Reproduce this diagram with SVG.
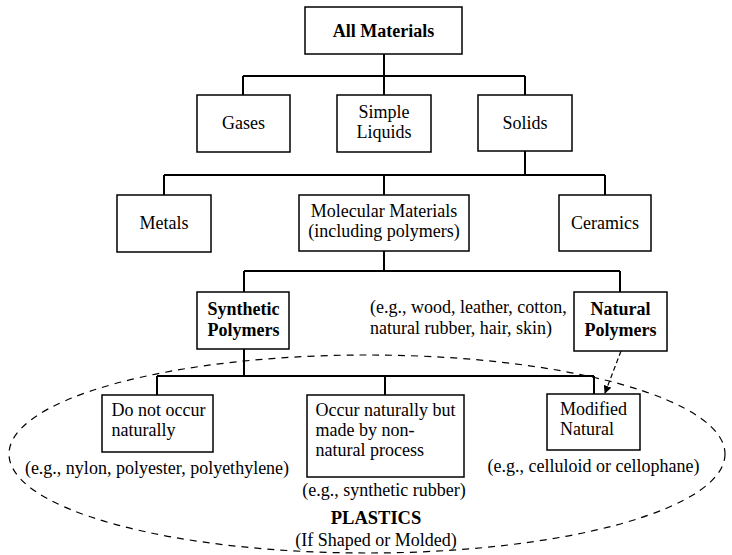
<svg xmlns="http://www.w3.org/2000/svg" width="732" height="555" viewBox="0 0 732 555" font-family="'Liberation Serif', Tinos, 'Times New Roman', 'DejaVu Serif', serif">
<defs>
<style>
.box{fill:#fff;stroke:#000;stroke-width:1.5}
.ln{fill:none;stroke:#000;stroke-width:2}
.t{font-family:'Liberation Serif', Tinos, 'Times New Roman', 'DejaVu Serif', serif;font-size:18px;fill:#000}
.c{text-anchor:middle}
.b{font-weight:bold}
</style>
<marker id="ah" viewBox="0 0 10 10" refX="9" refY="5" markerWidth="8" markerHeight="8" orient="auto" markerUnits="userSpaceOnUse">
<path d="M0,0 L10,5 L0,10 Z" fill="#000"/>
</marker>
</defs>
<rect width="732" height="555" fill="#fff"/>
<g id="plastics">
<ellipse cx="367" cy="454" rx="358" ry="99" fill="none" stroke="#000" stroke-width="1.2" stroke-dasharray="7 6"/>
<text class="t c b" x="376" y="524" style="font-size:18.5px">PLASTICS</text>
<text class="t c" x="376" y="546">(If Shaped or Molded)</text>
</g>
<g id="connectors">
<path class="ln" d="M384 54V76M243 76H525M243 76V95M384 76V95M525 76V95"/>
<path class="ln" d="M525 151V175M164 175H605M164 175V195M384 175V195M605 175V195"/>
<path class="ln" d="M384 251V271M244 271H620M244 271V292M620 271V292"/>
<path class="ln" d="M244 349V376M157 376H594M157 376V395M385 376V395M594 376V394"/>
<path d="M621 351L605 393" fill="none" stroke="#000" stroke-width="1.2" stroke-dasharray="5 3" marker-end="url(#ah)"/>
</g>
<g id="all-materials">
<rect class="box" x="305" y="7" width="157" height="47"/>
<text class="t c b" x="383.5" y="36.5">All Materials</text>
</g>
<g id="gases">
<rect class="box" x="197" y="95" width="93" height="57"/>
<text class="t c" x="243.5" y="129">Gases</text>
</g>
<g id="simple-liquids">
<rect class="box" x="337" y="95" width="94" height="57"/>
<text class="t c" x="384" y="118">Simple</text>
<text class="t c" x="384" y="138">Liquids</text>
</g>
<g id="solids">
<rect class="box" x="478" y="95" width="94" height="56"/>
<text class="t c" x="525" y="129">Solids</text>
</g>
<g id="metals">
<rect class="box" x="117" y="195" width="94" height="57"/>
<text class="t c" x="164" y="229">Metals</text>
</g>
<g id="molecular">
<rect class="box" x="299" y="195" width="170" height="56"/>
<text class="t c" x="384" y="217">Molecular Materials</text>
<text class="t c" x="384" y="237">(including polymers)</text>
</g>
<g id="ceramics">
<rect class="box" x="559" y="195" width="92" height="56"/>
<text class="t c" x="605" y="229">Ceramics</text>
</g>
<g id="synthetic">
<rect class="box" x="197" y="292" width="92" height="57"/>
<text class="t c b" x="243.5" y="315">Synthetic</text>
<text class="t c b" x="243.5" y="336">Polymers</text>
</g>
<g id="natural-examples">
<text class="t" x="370" y="313">(e.g., wood, leather, cotton,</text>
<text class="t" x="370" y="334">natural rubber, hair, skin)</text>
</g>
<g id="natural">
<rect class="box" x="574" y="292" width="93" height="59"/>
<text class="t c b" x="620.5" y="315">Natural</text>
<text class="t c b" x="620.5" y="336">Polymers</text>
</g>
<g id="do-not-occur">
<rect class="box" x="102" y="395" width="111" height="57"/>
<text class="t" x="111.5" y="416">Do not occur</text>
<text class="t" x="111.5" y="436">naturally</text>
<text class="t c" x="157" y="474">(e.g., nylon, polyester, polyethylene)</text>
</g>
<g id="occur-naturally">
<rect class="box" x="307" y="395" width="157" height="82"/>
<text class="t" x="315.5" y="416">Occur naturally but</text>
<text class="t" x="315.5" y="436">made by non-</text>
<text class="t" x="315.5" y="456">natural process</text>
<text class="t c" x="384" y="496">(e.g., synthetic rubber)</text>
</g>
<g id="modified-natural">
<rect class="box" x="547" y="394" width="93" height="56"/>
<text class="t" x="560" y="415">Modified</text>
<text class="t" x="560" y="435">Natural</text>
<text class="t c" x="593.5" y="472">(e.g., celluloid or cellophane)</text>
</g>
</svg>
